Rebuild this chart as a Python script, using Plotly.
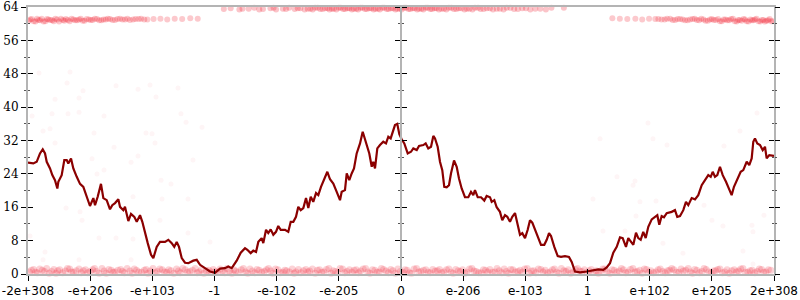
import plotly.graph_objects as go

# ---- axis labels ----
x_tick_vals = [-6, -5, -4, -3, -2, -1, 0, 1, 2, 3, 4, 5, 6]
x_tick_text = ["-2e+308", "-e+206", "-e+103", "-1", "-e-102", "-e-205", "0",
               "e-206", "e-103", "1", "e+102", "e+205", "2e+308"]
y_tick_vals = [0, 8, 16, 24, 32, 40, 48, 56, 64]

# ---- main line ----
line_x = [-6.0, -5.914, -5.860, -5.807, -5.763, -5.726, -5.699, -5.646, -5.609, -5.566,
          -5.528, -5.512, -5.458, -5.416, -5.377, -5.352, -5.308, -5.271, -5.216, -5.163,
          -5.110, -5.056, -5.003, -4.949, -4.922, -4.879, -4.826, -4.788, -4.734, -4.681,
          -4.644, -4.600, -4.547, -4.520, -4.467, -4.440, -4.386, -4.343, -4.290, -4.251,
          -4.198, -4.161, -4.118, -4.074, -4.021, -3.984, -3.930, -3.877, -3.796, -3.743,
          -3.688, -3.647, -3.608, -3.571, -3.527, -3.474, -3.421, -3.341, -3.286, -3.233,
          -3.153, -3.072, -2.992, -2.939, -2.911, -2.831, -2.778, -2.723, -2.643, -2.578,
          -2.509, -2.472, -2.418, -2.376, -2.332, -2.295, -2.241, -2.215, -2.171, -2.135,
          -2.096, -2.054, -2.011, -1.974, -1.935, -1.866, -1.813, -1.774, -1.732, -1.689,
          -1.652, -1.613, -1.571, -1.528, -1.491, -1.452, -1.411, -1.367, -1.330, -1.287,
          -1.239, -1.185, -1.142, -1.089, -1.034, -0.981, -0.954, -0.901, -0.873, -0.832,
          -0.793, -0.756, -0.713, -0.659, -0.616, -0.579, -0.552, -0.510, -0.471, -0.446,
          -0.418, -0.381, -0.338, -0.285, -0.241, -0.204, -0.166, -0.134, -0.097, -0.060,
          -0.027, 0.011, 0.053, 0.108, 0.161, 0.198, 0.253, 0.290, 0.359, 0.397,
          0.439, 0.483, 0.520, 0.547, 0.590, 0.627, 0.664, 0.696, 0.735, 0.772,
          0.804, 0.853, 0.896, 0.933, 0.976, 1.029, 1.083, 1.126, 1.163, 1.190,
          1.234, 1.287, 1.340, 1.378, 1.432, 1.459, 1.501, 1.539, 1.592, 1.629,
          1.673, 1.710, 1.753, 1.790, 1.834, 1.877, 1.914, 1.951, 1.995, 2.038,
          2.075, 2.112, 2.155, 2.199, 2.252, 2.305, 2.344, 2.381, 2.413, 2.466,
          2.521, 2.574, 2.638, 2.702, 2.746, 2.799, 2.879, 2.987, 3.109, 3.174,
          3.254, 3.309, 3.362, 3.415, 3.470, 3.523, 3.566, 3.619, 3.656, 3.695,
          3.737, 3.780, 3.817, 3.856, 3.897, 3.936, 3.978, 4.033, 4.086, 4.123,
          4.155, 4.193, 4.230, 4.274, 4.354, 4.407, 4.444, 4.488, 4.541, 4.584,
          4.621, 4.676, 4.729, 4.782, 4.837, 4.890, 4.943, 4.982, 5.014, 5.051,
          5.088, 5.131, 5.175, 5.228, 5.281, 5.319, 5.356, 5.409, 5.464, 5.506,
          5.561, 5.602, 5.641, 5.667, 5.694, 5.731, 5.775, 5.818, 5.855, 5.882,
          5.924, 6.0]
line_y = [26.7, 26.5, 26.9, 28.9, 29.9, 28.9, 26.9, 25.3, 23.7, 22.5,
          20.5, 22.1, 23.7, 27.3, 27.3, 26.5, 27.7, 25.3, 23.3, 21.6,
          20.9, 18.5, 16.3, 18.2, 16.5, 18.5, 21.6, 18.2, 17.7, 15.5,
          16.5, 17.0, 17.9, 16.1, 15.3, 16.1, 12.7, 14.4, 13.7, 12.5,
          14.1, 12.5, 9.8, 7.4, 4.6, 3.8, 6.5, 7.7, 7.7, 8.2,
          7.4, 6.5, 7.7, 6.5, 3.8, 2.7, 2.6, 3.2, 3.4, 2.2,
          1.4, 0.6, 0.3, 1.1, 1.3, 1.4, 1.8, 1.4, 3.2, 5.1,
          6.2, 5.8, 5.0, 5.6, 5.3, 7.7, 8.6, 7.4, 10.6, 9.8,
          10.7, 9.4, 10.1, 11.5, 10.6, 10.6, 10.1, 12.5, 12.5, 13.7,
          16.1, 15.3, 15.8, 18.2, 15.8, 18.5, 17.3, 19.4, 18.9, 20.9,
          22.5, 24.5, 22.7, 21.7, 19.7, 17.7, 19.7, 20.1, 24.1, 22.5,
          24.1, 25.3, 28.9, 31.3, 34.1, 32.1, 31.3, 28.9, 25.7, 26.9,
          25.3, 30.1, 30.9, 31.7, 31.3, 32.9, 32.5, 34.1, 35.7, 36.0,
          33.5, 32.3, 31.3, 28.9, 29.3, 30.1, 29.7, 30.7, 30.9, 31.3,
          30.1, 30.5, 33.1, 32.5, 30.5, 26.9, 24.9, 20.9, 20.8, 21.3,
          24.1, 27.2, 25.7, 22.9, 20.5, 18.4, 18.4, 19.7, 18.9, 20.1,
          18.4, 18.4, 17.6, 18.7, 18.4, 17.3, 17.7, 16.0, 14.9, 12.9,
          14.1, 13.7, 12.5, 13.7, 14.6, 11.8, 9.4, 9.8, 8.6, 10.6,
          12.9, 12.3, 10.6, 9.1, 7.0, 7.0, 8.2, 9.8, 9.1, 6.5,
          4.3, 4.1, 4.3, 4.1, 2.9, 0.6, 0.4, 0.6, 1.0, 1.1,
          1.0, 1.6, 2.6, 5.1, 6.5, 8.8, 8.6, 6.5, 8.6, 7.7,
          7.0, 9.9, 8.6, 8.2, 10.1, 8.6, 11.3, 13.1, 13.7, 14.1,
          11.8, 13.9, 13.6, 14.6, 14.9, 15.3, 13.7, 13.9, 15.3, 17.3,
          16.5, 18.2, 17.9, 18.9, 21.3, 22.5, 23.7, 23.3, 24.5, 23.3,
          23.7, 25.7, 23.7, 22.1, 20.1, 18.9, 20.9, 22.5, 24.5, 24.9,
          26.9, 26.1, 27.7, 31.7, 32.5, 31.3, 30.9, 29.7, 30.5, 27.7,
          28.5, 28.3]

# ---- dense band of dots near the bottom (two interleaved runs) ----
low_x = [-5.98, -5.91, -5.85, -5.77, -5.70, -5.62, -5.55, -5.49, -5.40, -5.33,
         -5.27, -5.18, -5.11, -5.04, -4.96, -4.90, -4.81, -4.74, -4.66, -4.60,
         -4.51, -4.45, -4.36, -4.29, -4.22, -4.13, -4.07, -3.99, -3.92, -3.84,
         -3.77, -3.70, -3.61, -3.55, -3.47, -3.40, -3.31, -3.25, -3.17, -3.09,
         -3.02, -2.95, -2.87, -2.80, -2.72, -2.66, -2.57, -2.50, -2.43, -2.35,
         -2.28, -2.20, -2.13, -2.06, -1.98, -1.90, -1.84, -1.75, -1.69, -1.61,
         -1.53, -1.47, -1.38, -1.31, -1.24, -1.16, -1.09, -1.02, -0.94, -0.87,
         -0.79, -0.72, -0.65, -0.57, -0.50, -0.42, -0.35, -0.28, -0.20, -0.13,
         -0.05, 0.03, 0.10, 0.17, 0.25, 0.32, 0.40, 0.47, 0.55, 0.62,
         0.69, 0.77, 0.84, 0.92, 0.99, 1.06, 1.14, 1.21, 1.29, 1.36,
         1.43, 1.51, 1.58, 1.66, 1.73, 1.80, 1.88, 1.95, 2.03, 2.10,
         2.17, 2.25, 2.32, 2.40, 2.47, 2.54, 2.62, 2.69, 2.77, 2.84,
         2.91, 2.99, 3.06, 3.14, 3.21, 3.28, 3.36, 3.43, 3.51, 3.58,
         3.65, 3.73, 3.80, 3.88, 3.95, 4.02, 4.10, 4.17, 4.25, 4.32,
         4.39, 4.47, 4.54, 4.62, 4.69, 4.76, 4.84, 4.91, 4.99, 5.06,
         5.13, 5.21, 5.28, 5.36, 5.43, 5.50, 5.58, 5.65, 5.73, 5.80,
         5.87, 5.95]
low_y = [0.5, 1.1, 0.3, 0.9, 1.3, 0.6, 0.2, 1.0, 0.7, 1.2,
         0.4, 1.2, 0.8, 0.3, 1.0, 0.6, 1.3, 0.2, 0.9, 0.5,
         1.1, 0.3, 0.7, 1.2, 0.5, 0.9, 0.2, 1.3, 0.6, 1.0,
         0.4, 0.8, 1.2, 0.3, 1.0, 0.6, 1.3, 0.5, 0.2, 0.9,
         1.1, 0.4, 0.8, 1.3, 0.2, 0.7, 1.0, 0.5, 1.2, 0.3,
         0.9, 0.6, 1.3, 0.2, 1.0, 0.4, 0.8, 1.2, 0.5, 0.3,
         1.1, 0.7, 0.2, 1.0, 0.5, 1.3, 0.8, 0.3, 1.2, 0.6,
         0.4, 1.0, 0.7, 1.3, 0.2, 0.9, 0.5, 1.1, 0.3, 0.8,
         1.2, 0.4, 0.9, 0.2, 1.3, 0.6, 1.0, 0.3, 0.7, 1.1,
         0.5, 1.2, 0.2, 0.8, 1.0, 0.4, 1.3, 0.6, 0.3, 0.9,
         1.1, 0.5, 0.8, 1.2, 0.2, 1.0, 0.6, 0.4, 1.3, 0.7,
         0.3, 1.1, 0.9, 0.5, 1.2, 0.2, 0.8, 1.0, 0.4, 1.3,
         0.6, 0.3, 1.1, 0.8, 0.5, 1.2, 0.2, 0.9, 0.7, 1.0,
         0.4, 1.3, 0.6, 0.2, 1.1, 0.8, 0.5, 1.2, 0.3, 0.9,
         1.0, 0.4, 0.7, 1.3, 0.2, 0.9, 0.6, 1.1, 0.3, 0.8,
         1.2, 0.5, 0.2, 1.0, 0.7, 1.3, 0.4, 0.9, 0.6, 1.1,
         0.5, 0.9]
low2_x = [-5.945, -5.88, -5.81, -5.735, -5.66, -5.585, -5.52, -5.445, -5.365, -5.30,
          -5.225, -5.145, -5.075, -5.00, -4.93, -4.855, -4.775, -4.70, -4.63, -4.555,
          -4.48, -4.405, -4.325, -4.255, -4.175, -4.10, -4.03, -3.955, -3.88, -3.805,
          -3.735, -3.655, -3.58, -3.51, -3.435, -3.355, -3.28, -3.21, -3.13, -3.055,
          -2.985, -2.91, -2.835, -2.76, -2.69, -2.615, -2.535, -2.465, -2.39, -2.315,
          -2.24, -2.165, -2.095, -2.02, -1.94, -1.87, -1.795, -1.72, -1.65, -1.57,
          -1.50, -1.425, -1.345, -1.275, -1.20, -1.125, -1.055, -0.98, -0.905, -0.83,
          -0.755, -0.685, -0.61, -0.535, -0.46, -0.385, -0.315, -0.24, -0.165, -0.09,
          -0.01, 0.065, 0.135, 0.21, 0.285, 0.36, 0.435, 0.51, 0.585, 0.655,
          0.73, 0.805, 0.88, 0.955, 1.025, 1.10, 1.175, 1.25, 1.325, 1.395,
          1.47, 1.545, 1.62, 1.695, 1.765, 1.84, 1.915, 1.99, 2.065, 2.135,
          2.21, 2.285, 2.36, 2.435, 2.505, 2.58, 2.655, 2.73, 2.805, 2.875,
          2.95, 3.025, 3.10, 3.175, 3.245, 3.32, 3.395, 3.47, 3.545, 3.615,
          3.69, 3.765, 3.84, 3.915, 3.985, 4.06, 4.135, 4.21, 4.285, 4.355,
          4.43, 4.505, 4.58, 4.655, 4.725, 4.80, 4.875, 4.95, 5.025, 5.095,
          5.17, 5.245, 5.32, 5.395, 5.465, 5.54, 5.615, 5.69, 5.765, 5.835,
          5.91]
low2_y = [0.9, 0.4, 1.2, 0.6, 0.2, 1.1, 0.8, 0.3, 1.3, 0.5,
          0.8, 0.3, 1.0, 0.6, 1.3, 0.2, 0.7, 1.1, 0.4, 0.9,
          0.6, 1.3, 0.2, 0.9, 0.4, 1.1, 0.7, 0.3, 1.2, 0.5,
          1.0, 0.2, 0.7, 1.3, 0.4, 0.9, 0.3, 1.1, 0.8, 0.5,
          0.6, 1.2, 0.3, 0.8, 1.0, 0.4, 1.3, 0.2, 0.7, 1.1,
          0.4, 1.0, 0.7, 1.2, 0.3, 0.9, 0.5, 0.2, 1.1, 0.8,
          0.5, 1.2, 0.9, 0.4, 1.1, 0.2, 0.6, 1.3, 0.3, 1.0,
          0.9, 0.3, 1.2, 0.5, 1.0, 0.4, 1.3, 0.7, 1.1, 0.2,
          0.6, 1.0, 0.3, 1.2, 0.5, 0.9, 0.4, 1.1, 0.8, 0.3,
          1.0, 0.4, 1.1, 0.6, 0.2, 1.2, 0.7, 0.3, 1.0, 0.5,
          0.4, 1.3, 0.3, 0.6, 1.1, 0.5, 0.9, 1.2, 0.2, 0.8,
          1.2, 0.5, 0.3, 1.0, 0.4, 1.3, 0.6, 0.2, 1.1, 0.7,
          1.0, 0.8, 0.4, 0.2, 1.2, 0.5, 1.0, 0.4, 1.3, 0.3,
          1.1, 0.5, 0.9, 1.2, 0.4, 0.3, 1.0, 0.6, 0.8, 1.3,
          0.4, 1.2, 0.9, 0.5, 1.1, 0.3, 1.3, 0.5, 0.7, 1.1,
          0.3, 1.0, 0.8, 0.5, 1.2, 0.4, 0.8, 0.3, 1.2, 0.4,
          1.0]

# ---- band of dots along the top (middle) ----
top_x = [-2.85, -2.74, -2.60, -2.45, -2.36, -2.22, -2.10, -2.01, -1.90, -1.80,
         -1.71, -1.62, -1.55, -1.46, -1.38, -1.30, -1.22, -1.15, -1.08, -1.00,
         -0.93, -0.86, -0.79, -0.72, -0.65, -0.58, -0.51, -0.44, -0.37, -0.30,
         -0.23, -0.16, -0.09, -0.02, 0.05, 0.12, 0.19, 0.26, 0.33, 0.40,
         0.47, 0.54, 0.61, 0.69, 0.77, 0.85, 0.93, 1.02, 1.10, 1.19,
         1.28, 1.38, 1.48, 1.59, 1.70, 1.82, 1.95, 2.08, 2.24, 2.42,
         -2.55, -2.28, -2.05, -1.85, -1.66, -1.50, -1.42, -1.34, -1.26, -1.18,
         -1.11, -1.04, -0.97, -0.90, -0.83, -0.76, -0.69, -0.62, -0.55, -0.48,
         -0.41, -0.34, -0.27, -0.20, -0.13, -0.06, 0.01, 0.08, 0.15, 0.22,
         0.29, 0.36, 0.43, 0.50, 0.57, 0.65, 0.73, 0.81, 0.89, 0.97,
         1.06, 1.15, 1.24, 1.33, 1.43, 1.54, 1.65, 1.76, 1.88, 2.01,
         2.16, 2.33, 2.62]
top_y = [63.5, 63.7, 63.4, 63.6, 63.8, 63.5, 63.7, 63.4, 63.6, 63.8,
         63.5, 63.7, 63.4, 63.6, 63.8, 63.5, 63.7, 63.4, 63.6, 63.8,
         63.5, 63.7, 63.4, 63.6, 63.8, 63.5, 63.7, 63.4, 63.6, 63.8,
         63.5, 63.7, 63.4, 63.6, 63.8, 63.5, 63.7, 63.4, 63.6, 63.8,
         63.5, 63.7, 63.4, 63.6, 63.8, 63.5, 63.7, 63.4, 63.6, 63.8,
         63.5, 63.7, 63.4, 63.6, 63.8, 63.5, 63.7, 63.4, 63.6, 63.8,
         63.6, 63.4, 63.8, 63.5, 63.7, 63.6, 63.4, 63.8, 63.5, 63.7,
         63.6, 63.4, 63.8, 63.5, 63.7, 63.6, 63.4, 63.8, 63.5, 63.7,
         63.6, 63.4, 63.8, 63.5, 63.7, 63.6, 63.4, 63.8, 63.5, 63.7,
         63.6, 63.4, 63.8, 63.5, 63.7, 63.6, 63.4, 63.8, 63.5, 63.7,
         63.6, 63.4, 63.8, 63.5, 63.7, 63.6, 63.4, 63.8, 63.5, 63.7,
         63.6, 63.4, 63.8]

# ---- bands of dots near 61 at the far left and far right ----
side_x = [-5.99, -5.94, -5.88, -5.83, -5.78, -5.72, -5.67, -5.61, -5.56, -5.50,
          -5.44, -5.39, -5.33, -5.27, -5.21, -5.15, -5.09, -5.02, -4.96, -4.89,
          -4.82, -4.75, -4.68, -4.60, -4.52, -4.44, -4.36, -4.27, -4.18, -4.08,
          -3.98, -3.87, -3.76, -3.64, -3.52, -3.39, -3.27,
          -5.965, -5.91, -5.855, -5.805, -5.75, -5.695, -5.64, -5.585, -5.53, -5.47,
          -5.415, -5.36, -5.30, -5.24, -5.18, -5.12, -5.055, -4.99, -4.925, -4.855,
          -4.785, -4.715, -4.64, -4.56, -4.48, -4.40, -4.31, -4.22, -4.13,
          3.40, 3.52, 3.64, 3.77, 3.88, 3.99, 4.09, 4.19, 4.28, 4.37,
          4.45, 4.53, 4.61, 4.69, 4.76, 4.83, 4.90, 4.97, 5.03, 5.10,
          5.16, 5.22, 5.28, 5.34, 5.40, 5.45, 5.51, 5.56, 5.62, 5.67,
          5.72, 5.78, 5.83, 5.88, 5.93, 5.98,
          4.14, 4.24, 4.33, 4.41, 4.49, 4.57, 4.65, 4.725, 4.795, 4.865,
          4.935, 5.00, 5.065, 5.13, 5.19, 5.25, 5.31, 5.37, 5.425, 5.48,
          5.535, 5.59, 5.645, 5.695, 5.75, 5.805, 5.855, 5.905, 5.955]
side_y = [60.7, 61.1, 60.5, 60.9, 61.2, 60.6, 61.0, 60.8, 61.2, 60.5,
          60.9, 61.1, 60.6, 61.0, 60.8, 61.2, 60.7, 61.0, 60.9, 61.1,
          60.8, 61.0, 61.1, 60.9, 61.2, 61.0, 60.9, 61.1, 61.2, 61.0,
          61.1, 61.2, 61.0, 61.2, 61.1, 61.3, 61.2,
          61.0, 60.6, 61.2, 60.8, 60.5, 61.1, 60.9, 60.6, 61.0, 61.2,
          60.7, 60.9, 61.2, 60.8, 61.0, 60.7, 61.1, 60.9, 61.2, 60.8,
          61.0, 61.2, 60.9, 61.1, 61.0, 61.2, 61.0, 61.1, 61.0,
          61.3, 61.2, 61.1, 61.2, 61.0, 61.2, 61.1, 61.0, 61.2, 60.9,
          61.1, 61.0, 60.8, 61.1, 60.9, 61.2, 60.7, 61.0, 60.9, 61.1,
          60.6, 61.0, 60.8, 61.2, 60.5, 60.9, 61.1, 60.6, 61.0, 60.8,
          61.2, 60.5, 60.9, 60.7, 61.1, 60.6,
          61.1, 61.0, 61.2, 60.9, 61.1, 60.8, 61.0, 61.2, 60.8, 61.0,
          60.7, 61.1, 60.9, 60.6, 61.0, 60.8, 61.1, 60.6, 60.9, 60.7,
          61.0, 60.5, 60.8, 61.0, 60.6, 60.9, 60.5, 60.8, 60.6]

# ---- sparse scattered dots ----
sparse_x = [-5.823, -5.324, -5.372, -5.115, -4.584, -4.230, -4.037, -3.587, -3.941, -5.179,
            -5.565, -5.935, -5.614, -5.356, -5.179, -4.777, -3.539, -3.458, -3.201, -5.758,
            -5.646, -4.938, -4.102, -4.005, -3.957, -5.565, -4.616, -4.230, -4.970, -4.343,
            -3.346, -4.777, -4.890, -3.860, -3.700, -4.311, -3.844, -3.426, -5.388, -5.163,
            -5.131, -3.877, -3.426, -3.072, -5.968, -4.858, -4.584, -4.311, -5.726, -5.758,
            -5.179, -4.343,
            3.201, 3.973, 4.053, 4.279, 5.195, 5.726, 5.453, 3.474, 3.764, 3.732,
            3.088, 3.844, 4.102, 4.874, 3.780, 5.839, 5.002, 5.179, 5.646, 3.249,
            3.603, 5.662, 4.214, 5.501, 4.536, 5.662]
sparse_y = [48.2, 48.4, 45.8, 43.9, 45.1, 44.3, 45.3, 44.6, 42.4, 42.2,
            41.9, 37.9, 38.4, 38.4, 38.8, 37.9, 38.4, 36.4, 35.2, 34.3,
            34.8, 33.8, 33.8, 33.6, 31.4, 31.4, 30.4, 28.3, 27.6, 26.8,
            27.3, 24.9, 24.0, 22.5, 21.6, 18.5, 18.0, 18.0, 15.8, 14.9,
            12.9, 12.9, 9.8, 7.7, 9.1, 8.6, 8.6, 8.4, 5.3, 3.4,
            3.4, 3.4,
            32.4, 36.2, 32.4, 30.9, 30.7, 38.6, 34.3, 23.3, 22.3, 21.3,
            18.0, 17.3, 17.5, 16.5, 13.9, 14.1, 12.9, 11.5, 11.7, 10.3,
            10.3, 10.1, 7.4, 5.5, 5.0, 2.4]

AXIS_GREY = "#b4b4b4"
DOT = "rgb(240,20,40)"


def dots(x, y, size, opacity):
    return go.Scatter(x=x, y=y, mode="markers", cliponaxis=False,
                      marker=dict(size=size, color=DOT, opacity=opacity, line=dict(width=0)),
                      showlegend=False, hoverinfo="skip")


fig = go.Figure()
fig.add_trace(dots(sparse_x, sparse_y, 5, 0.045))
fig.add_trace(dots(low_x, low_y, 7, 0.19))
fig.add_trace(dots(low2_x, low2_y, 7, 0.19))
fig.add_trace(dots(top_x, top_y, 6, 0.25))
fig.add_trace(dots(side_x, side_y, 6, 0.23))
fig.add_trace(go.Scatter(x=line_x, y=line_y, mode="lines",
                         line=dict(color="#8b0000", width=2.2),
                         showlegend=False, hoverinfo="skip"))

# empty traces so the overlay axes (used only for crossing tick marks) are drawn
for xa, ya in [("x2", "y"), ("x", "y2"), ("x", "y3"), ("x", "y4"), ("x", "y5"), ("x", "y6")]:
    fig.add_trace(go.Scatter(x=[None], y=[None], xaxis=xa, yaxis=ya,
                             showlegend=False, hoverinfo="skip"))

xr = [-6, 6]
yr = [0, 64]
minor_out = dict(ticks="outside", ticklen=2, tickcolor="#555", dtick=4, tick0=0, showgrid=False)
minor_in = dict(ticks="inside", ticklen=2, tickcolor="#555", dtick=4, tick0=0, showgrid=False)
common = dict(showgrid=False, zeroline=False, automargin=False)

fig.update_layout(
    width=800, height=300,
    margin=dict(l=28, r=26, t=7, b=26, autoexpand=False),
    paper_bgcolor="white", plot_bgcolor="white",
    xaxis=dict(range=xr, tickmode="array", tickvals=x_tick_vals, ticktext=x_tick_text,
               ticks="outside", ticklen=5, tickcolor="black", tickwidth=1,
               showline=True, linecolor=AXIS_GREY, linewidth=2, mirror=True,
               tickfont=dict(family="DejaVu Sans", size=12, color="black"), **common),
    xaxis2=dict(range=xr, overlaying="x", anchor="y", side="bottom",
                tickmode="array", tickvals=x_tick_vals, ticks="inside", ticklen=5,
                tickcolor="black", showticklabels=False, showline=False, **common),
    yaxis=dict(range=yr, tickmode="array", tickvals=y_tick_vals,
               ticks="outside", ticklen=5, tickcolor="black", tickwidth=1,
               minor=minor_out, showline=True, linecolor=AXIS_GREY, linewidth=2,
               mirror=True,
               tickfont=dict(family="DejaVu Serif", size=12, color="black"), **common),
    yaxis2=dict(range=yr, overlaying="y", anchor="x", side="left",
                tickmode="array", tickvals=y_tick_vals, ticks="inside", ticklen=5,
                tickcolor="black", minor=minor_in, showticklabels=False,
                showline=False, **common),
    yaxis3=dict(range=yr, overlaying="y", anchor="x", side="right",
                tickmode="array", tickvals=y_tick_vals, ticks="outside", ticklen=5,
                tickcolor="black", minor=minor_out, showticklabels=False,
                showline=False, **common),
    yaxis4=dict(range=yr, overlaying="y", anchor="x", side="right",
                tickmode="array", tickvals=y_tick_vals, ticks="inside", ticklen=5,
                tickcolor="black", minor=minor_in, showticklabels=False,
                showline=False, **common),
    yaxis5=dict(range=yr, overlaying="y", anchor="free", position=0.5, side="left",
                tickmode="array", tickvals=y_tick_vals, ticks="outside", ticklen=5,
                tickcolor="black", minor=minor_out, showticklabels=False,
                showline=True, linecolor=AXIS_GREY, linewidth=2, **common),
    yaxis6=dict(range=yr, overlaying="y", anchor="free", position=0.5, side="right",
                tickmode="array", tickvals=y_tick_vals, ticks="outside", ticklen=5,
                tickcolor="black", minor=minor_out, showticklabels=False,
                showline=False, **common),
)

fig.write_html("out.html")
